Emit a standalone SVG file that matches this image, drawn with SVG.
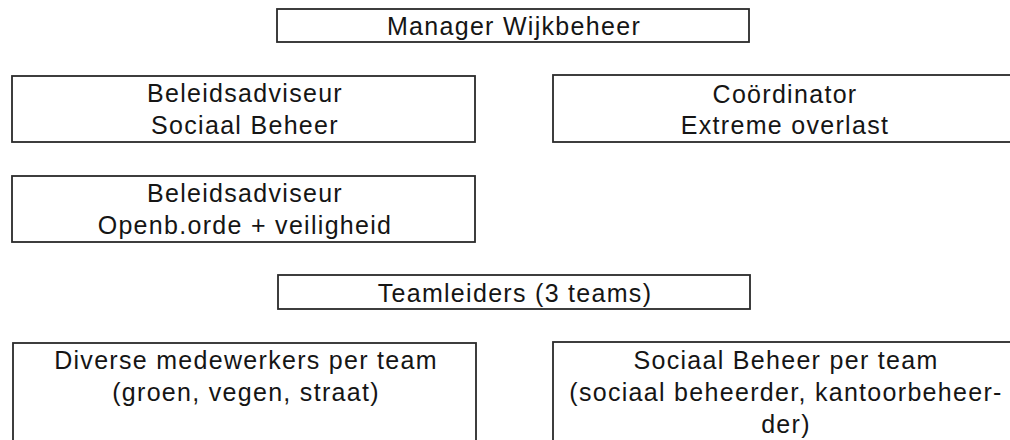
<svg xmlns="http://www.w3.org/2000/svg" width="1010" height="440" viewBox="0 0 1010 440">
<style>
.box{fill:#fff;stroke:#2a2a2a;stroke-width:1.8}
.t{font-family:"Liberation Sans",Arial,sans-serif;font-size:25px;letter-spacing:1.3px;fill:#151515;text-anchor:middle}
</style>
<rect width="1010" height="440" fill="#fff"/>
<g id="connectors"/>
<g id="manager">
<rect class="box" x="277" y="9" width="472" height="33"/>
<text class="t" x="514" y="35">Manager Wijkbeheer</text>
</g>
<g id="beleid-sociaal">
<rect class="box" x="12" y="76" width="463" height="66"/>
<text class="t" x="245" y="102">Beleidsadviseur</text>
<text class="t" x="245" y="134">Sociaal Beheer</text>
</g>
<g id="coordinator">
<rect class="box" x="553" y="75" width="463" height="67"/>
<text class="t" x="785" y="103">Coördinator</text>
<text class="t" x="785" y="134">Extreme overlast</text>
</g>
<g id="beleid-oov">
<rect class="box" x="12" y="176" width="463" height="66"/>
<text class="t" x="245" y="202">Beleidsadviseur</text>
<text class="t" x="245" y="234">Openb.orde + veiligheid</text>
</g>
<g id="teamleiders">
<rect class="box" x="278" y="275" width="472" height="34"/>
<text class="t" x="515" y="302">Teamleiders (3 teams)</text>
</g>
<g id="medewerkers">
<rect class="box" x="13" y="343" width="463" height="110"/>
<text class="t" x="246" y="369">Diverse medewerkers per team</text>
<text class="t" x="246" y="401">(groen, vegen, straat)</text>
</g>
<g id="sociaal-beheer">
<rect class="box" x="553" y="342" width="463" height="110"/>
<text class="t" x="786" y="369">Sociaal Beheer per team</text>
<text class="t" x="786" y="401">(sociaal beheerder, kantoorbeheer-</text>
<text class="t" x="786" y="433">der)</text>
</g>
</svg>
